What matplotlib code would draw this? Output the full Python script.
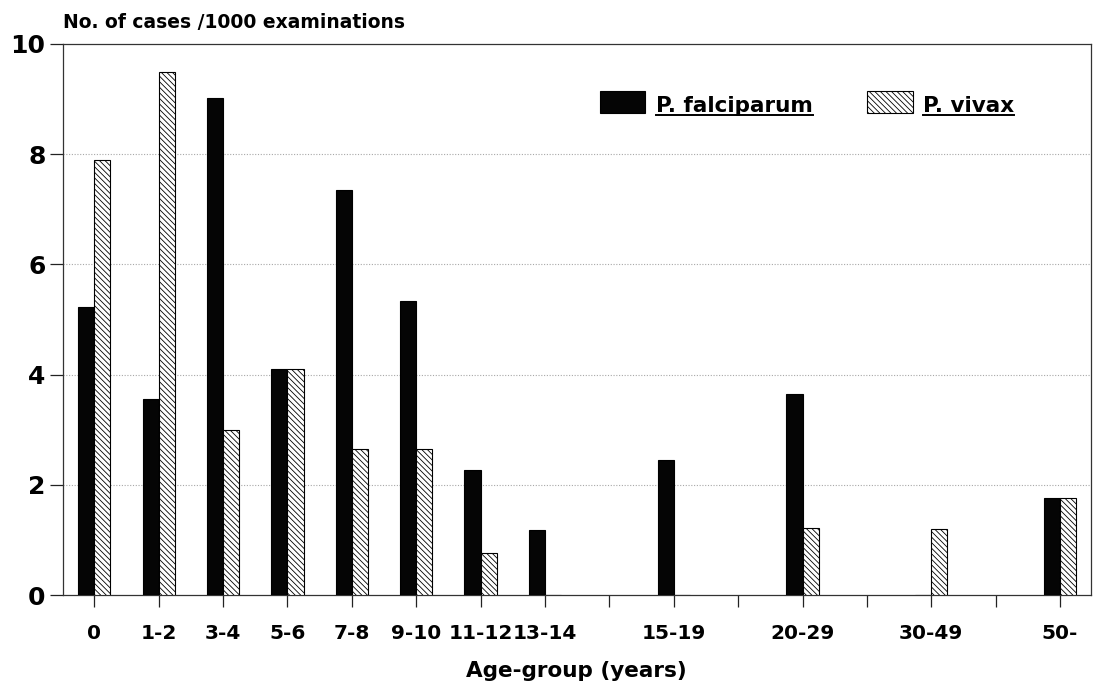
"""
Malaria cases per 1000 examinations by age group, P. falciparum vs P. vivax.
"""
import matplotlib
matplotlib.use('Agg')
import matplotlib.pyplot as plt
import matplotlib.patches as mpatches
from matplotlib.lines import Line2D

# Age groups and their slot on the x axis (older groups are spaced wider)
age_groups = ['0', '1-2', '3-4', '5-6', '7-8', '9-10', '11-12', '13-14',
              '15-19', '20-29', '30-49', '50-']
slots = [0, 1, 2, 3, 4, 5, 6, 7, 9, 11, 13, 15]

# Cases per 1000 examinations
falciparum = [5.22, 3.55, 9.02, 4.10, 7.35, 5.33, 2.27, 1.18, 2.45, 3.65, 0.0, 1.76]
vivax = [7.90, 9.50, 3.00, 4.10, 2.65, 2.65, 0.77, 0.0, 0.0, 1.22, 1.20, 1.76]

FONT = 'DejaVu Sans'
HATCH = '\\' * 6
plt.rcParams['font.family'] = FONT
plt.rcParams['hatch.linewidth'] = 0.6

fig = plt.figure(figsize=(10.95, 6.83), dpi=100)
ax = fig.add_axes([0.0573, 0.1288, 0.9390, 0.8068])

BAR_W = 0.25
ax.bar([s - BAR_W for s in slots], falciparum, width=BAR_W, align='edge',
       color='#050505', edgecolor='black', linewidth=0.8, zorder=3)
ax.bar(slots, vivax, width=BAR_W, align='edge', color='white',
       edgecolor='black', hatch=HATCH, linewidth=0.8, zorder=3)

# axes, ticks
ax.set_xlim(-0.49, 15.48)
ax.set_ylim(0, 10)
ax.set_yticks([0, 2, 4, 6, 8, 10])
ax.set_yticklabels(['0', '2', '4', '6', '8', '10'], fontsize=18, fontweight='bold')

tick_labels = [''] * 16
for s, lab in zip(slots, age_groups):
    tick_labels[s] = lab
ax.set_xticks(range(16))
ax.set_xticklabels(tick_labels, fontsize=14.5, fontweight='bold')

ax.tick_params(axis='y', direction='out', length=9.5, width=0.9, pad=3, colors='#222222')
ax.tick_params(axis='x', direction='out', length=8.5, width=0.9, pad=12, colors='#222222')
for lab in ax.get_xticklabels() + ax.get_yticklabels():
    lab.set_color('black')

for sp in ax.spines.values():
    sp.set_linewidth(0.9)
    sp.set_color('#333333')

# dotted grid
for y in [2, 4, 6, 8]:
    ax.axhline(y, color='#a8a8a8', linestyle=(0, (1, 1.5)), linewidth=0.8, zorder=1)

ax.set_xlabel('Age-group (years)', fontsize=15.5, fontweight='bold', labelpad=13)
fig.text(0.0573, 0.959, 'No. of cases /1000 examinations', fontsize=13.5,
         fontweight='bold', ha='left', va='baseline')

# legend built by hand (underlined names)
ax.add_patch(mpatches.Rectangle((0.5225, 0.874), 0.0438, 0.041, transform=ax.transAxes,
                                facecolor='#050505', edgecolor='black', linewidth=0.8,
                                clip_on=False, zorder=4))
ax.add_patch(mpatches.Rectangle((0.782, 0.874), 0.0453, 0.041, transform=ax.transAxes,
                                facecolor='white', edgecolor='black', hatch=HATCH,
                                linewidth=0.8, clip_on=False, zorder=4))
t1 = ax.text(0.577, 0.8765, 'P. falciparum', transform=ax.transAxes, fontsize=15.5,
             fontweight='bold', ha='left', va='baseline')
t2 = ax.text(0.8366, 0.8765, 'P. vivax', transform=ax.transAxes, fontsize=15.5,
             fontweight='bold', ha='left', va='baseline')

fig.canvas.draw()
inv = ax.transAxes.inverted()
for t in (t1, t2):
    bb = t.get_window_extent()
    x0, _ = inv.transform((bb.x0, 0))
    x1, _ = inv.transform((bb.x1, 0))
    _, yb = inv.transform((0, ax.transAxes.transform((0, 0.8765))[1] - 3))
    ax.add_line(Line2D([x0, x1], [yb, yb], transform=ax.transAxes, color='black',
                       linewidth=1.4, clip_on=False))

fig.savefig('out.png', dpi=100, facecolor='white')
plt.close(fig)
